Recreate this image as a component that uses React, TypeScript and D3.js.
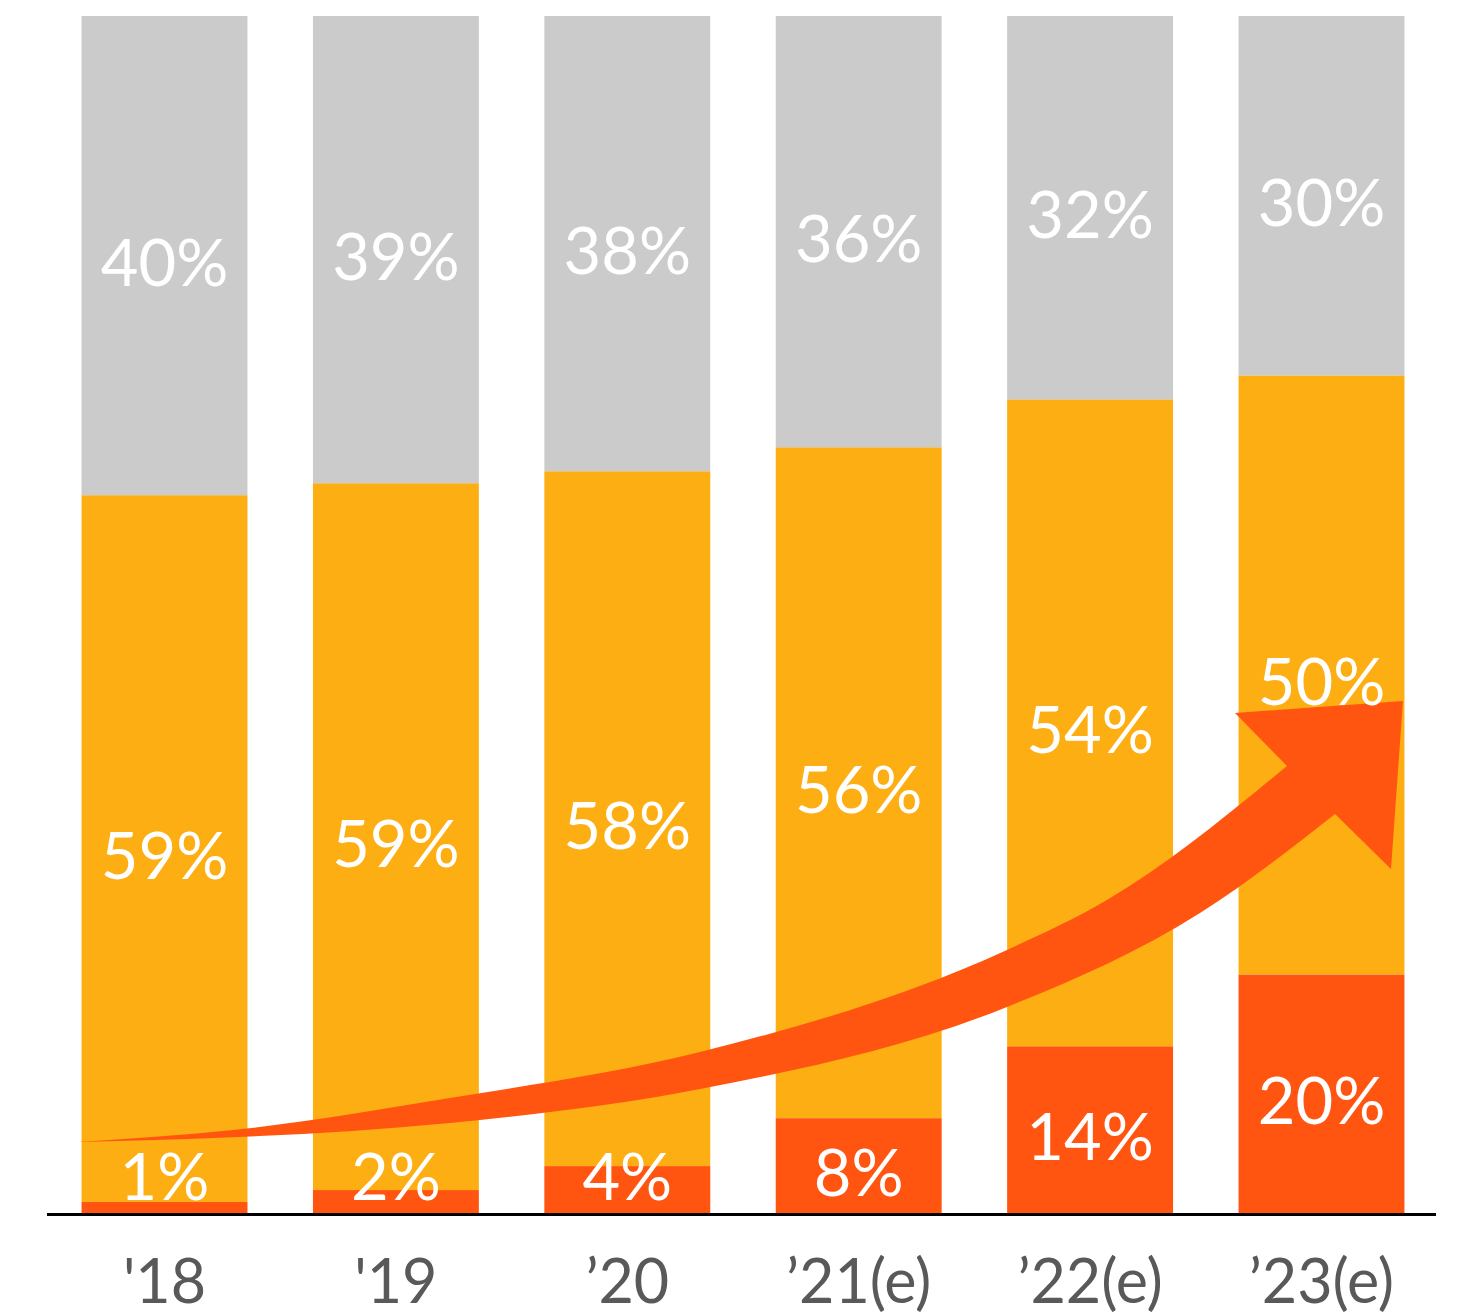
import React, { useEffect } from "react";
import * as d3 from "d3";

const categories = ["'18", "'19", "’20", "’21(e)", "’22(e)", "’23(e)"];
const bottomValues = [1, 2, 4, 8, 14, 20];
const middleValues = [59, 59, 58, 56, 54, 50];
const topValues = [40, 39, 38, 36, 32, 30];
const seriesKeys = ["bottom", "middle", "top"];
const seriesColors = ["#FF5511", "#FCAE12", "#CBCBCB"];

// arrow annotation in chart space: [x as % of plot width, y as % value]
const arrowUpper: [number, number][] = [
  [2.23, 6.01], [13.39, 7.01], [29.01, 9.68], [47.01, 13.52],
  [69.11, 22.04], [76.31, 26.21], [89.27, 37.4],
];
const arrowHead: [number, number][] = [
  [85.53, 41.82], [97.62, 42.82], [96.76, 28.8], [92.73, 33.39],
];
const arrowLower: [number, number][] = [
  [92.73, 33.39], [83.01, 25.13], [69.11, 17.28], [47.01, 10.43], [29.01, 7.6],
  [13.39, 6.4], [2.23, 6.01],
];

const W = 1470;
const H = 1315;
const left = 47;
const right = 1436;
const top = 16;
const bottom = 1214;
const FONT = "Lato, 'Open Sans', sans-serif";

export default function App() {
  useEffect(() => {
    document.body.style.margin = "0";
  }, []);

  const data = categories.map((c, i) => ({
    cat: c,
    bottom: bottomValues[i],
    middle: middleValues[i],
    top: topValues[i],
  }));
  const stack = d3.stack<any>().keys(seriesKeys)(data);

  const x = d3
    .scaleBand<string>()
    .domain(categories)
    .range([48, 1438])
    .paddingInner(0.283)
    .paddingOuter(0.145);
  const y = d3.scaleLinear().domain([0, 100]).range([bottom, top]);
  const ax = d3.scaleLinear().domain([0, 100]).range([left, right]);

  const line = d3
    .line<[number, number]>()
    .x((d) => ax(d[0]))
    .y((d) => y(d[1]))
    .curve(d3.curveMonotoneX);
  const upperStr = line(arrowUpper) || "";
  const lowerStr = (line(arrowLower) || "").replace(/^M/, "L");
  const headStr = arrowHead.map((p) => `L${ax(p[0])},${y(p[1])}`).join("");
  const arrowPath = upperStr + headStr + lowerStr + "Z";

  return (
    <svg
      width={W}
      height={H}
      style={{ position: "absolute", left: 0, top: 0, display: "block" }}
    >
      <rect x={0} y={0} width={W} height={H} fill="#ffffff" />
      {stack.map((s, si) => (
        <g key={s.key} fill={seriesColors[si]}>
          {s.map((d, i) => (
            <rect
              key={i}
              x={x(categories[i])}
              y={y(d[1])}
              width={x.bandwidth()}
              height={y(d[0]) - y(d[1])}
            />
          ))}
        </g>
      ))}
      <path d={arrowPath} fill="#FF5511" />
      {stack.map((s) =>
        s.map((d, i) => {
          const cy = (y(d[0]) + y(d[1])) / 2;
          const by = Math.min(cy + 30, 1200);
          return (
            <text
              key={s.key + i}
              x={(x(categories[i]) || 0) + x.bandwidth() / 2}
              y={by}
              textAnchor="middle"
              fill="#ffffff"
              fontFamily={FONT}
              fontSize={65}
            >
              {`${d[1] - d[0]}%`}
            </text>
          );
        })
      )}
      <line x1={left} x2={right} y1={bottom + 0.5} y2={bottom + 0.5} stroke="#000" strokeWidth={3} />
      {categories.map((c) => (
        <text
          key={c}
          x={(x(c) || 0) + x.bandwidth() / 2}
          y={1303}
          textAnchor="middle"
          fill="#595959"
          fontFamily={FONT}
          fontSize={61}
        >
          {c}
        </text>
      ))}
    </svg>
  );
}
